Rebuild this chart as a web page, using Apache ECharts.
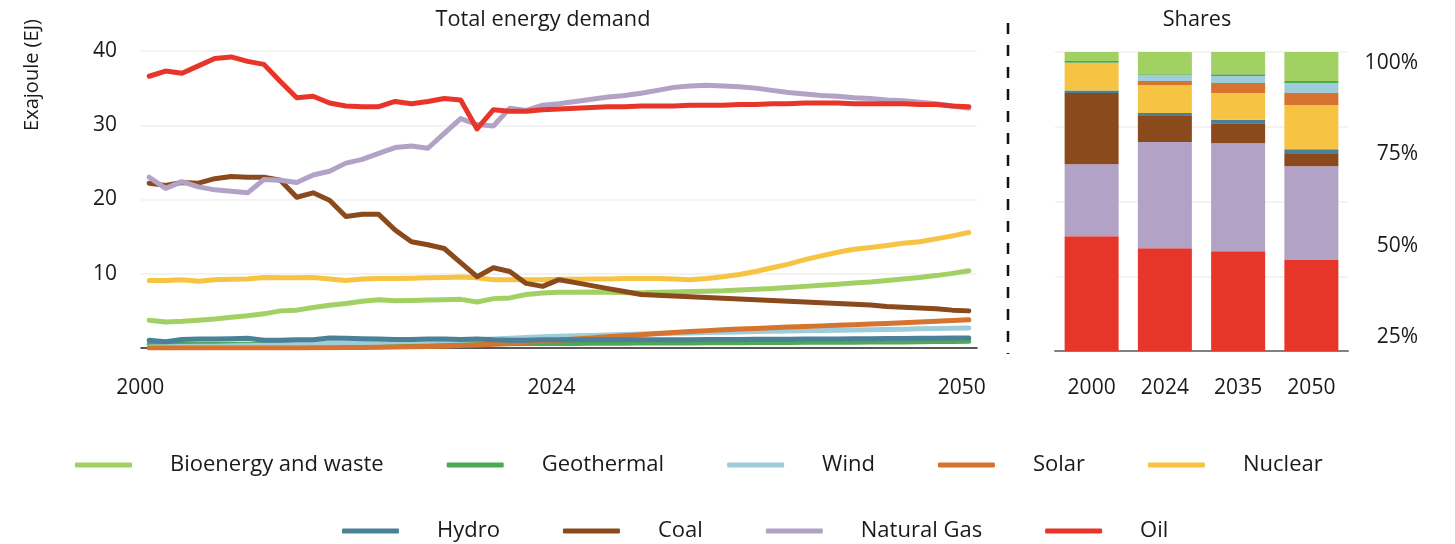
<!DOCTYPE html>
<html>
<head>
<meta charset="utf-8">
<title>Total energy demand</title>
<script src="https://cdn.jsdelivr.net/npm/echarts@6/dist/echarts.min.js"></script>
<style>
  html, body { margin: 0; padding: 0; background: #fff; }
  #main { width: 1455px; height: 544px; }
</style>
</head>
<body>
<div id="main"></div>
<script>
// years on the left chart, only a few get a label
var years = [];
for (var y = 2000; y <= 2050; y++) { years.push(String(y)); }
var labelYears = ['2000', '2024', '2050'];

// Exajoule per year, 2000 -> 2050
var bioenergy = [3.75, 3.5, 3.6, 3.75, 3.9, 4.15, 4.35, 4.6, 5.0, 5.1, 5.45, 5.75, 6.0, 6.3, 6.5, 6.35, 6.4, 6.45, 6.5, 6.55,
  6.2, 6.65, 6.75, 7.2, 7.4, 7.5, 7.5, 7.55, 7.5, 7.45, 7.45, 7.5, 7.55, 7.6, 7.65, 7.7, 7.8, 7.9, 8.0, 8.15,
  8.3, 8.45, 8.6, 8.75, 8.9, 9.1, 9.3, 9.5, 9.75, 10.05, 10.4];
var geothermal = [0.5, 0.5, 0.5, 0.5, 0.5, 0.5, 0.5, 0.5, 0.52, 0.52, 0.53, 0.53, 0.54, 0.54, 0.55, 0.55, 0.55, 0.56, 0.56, 0.57,
  0.57, 0.58, 0.58, 0.59, 0.6, 0.61, 0.62, 0.63, 0.64, 0.65, 0.66, 0.67, 0.68, 0.69, 0.7, 0.71, 0.72, 0.73, 0.74, 0.75,
  0.76, 0.77, 0.78, 0.79, 0.8, 0.81, 0.82, 0.84, 0.86, 0.88, 0.9];
var wind = [0.15, 0.17, 0.2, 0.22, 0.25, 0.3, 0.33, 0.38, 0.42, 0.47, 0.52, 0.57, 0.63, 0.69, 0.74, 0.8, 0.86, 0.92, 0.98, 1.05,
  1.12, 1.22, 1.32, 1.42, 1.52, 1.58, 1.64, 1.7, 1.76, 1.82, 1.88, 1.93, 1.98, 2.03, 2.08, 2.13, 2.17, 2.21, 2.25, 2.29,
  2.33, 2.37, 2.4, 2.44, 2.47, 2.5, 2.54, 2.58, 2.62, 2.66, 2.7];
var solar = [0, 0, 0, 0, 0, 0, 0, 0, 0, 0, 0.02, 0.04, 0.06, 0.08, 0.1, 0.13, 0.16, 0.2, 0.25, 0.32,
  0.4, 0.5, 0.62, 0.76, 0.9, 1.05, 1.2, 1.35, 1.5, 1.65, 1.8, 1.95, 2.1, 2.22, 2.34, 2.45, 2.55, 2.64, 2.73, 2.82,
  2.9, 2.98, 3.06, 3.14, 3.22, 3.3, 3.4, 3.5, 3.6, 3.7, 3.8];
var nuclear = [9.1, 9.1, 9.2, 9.0, 9.2, 9.25, 9.3, 9.5, 9.45, 9.45, 9.5, 9.3, 9.1, 9.3, 9.35, 9.35, 9.4, 9.45, 9.5, 9.55,
  9.45, 9.2, 9.2, 9.2, 9.2, 9.25, 9.25, 9.3, 9.3, 9.35, 9.35, 9.35, 9.3, 9.2, 9.35, 9.6, 9.9, 10.3, 10.8, 11.3,
  11.9, 12.4, 12.9, 13.3, 13.55, 13.8, 14.1, 14.3, 14.7, 15.1, 15.55];
var hydro = [1.05, 0.85, 1.15, 1.2, 1.2, 1.25, 1.3, 1.05, 1.05, 1.1, 1.1, 1.35, 1.3, 1.25, 1.2, 1.15, 1.15, 1.2, 1.2, 1.15,
  1.2, 1.1, 1.05, 1.05, 1.1, 1.1, 1.1, 1.1, 1.1, 1.1, 1.1, 1.1, 1.12, 1.12, 1.14, 1.15, 1.16, 1.17, 1.18, 1.19,
  1.2, 1.21, 1.22, 1.24, 1.25, 1.27, 1.28, 1.3, 1.31, 1.33, 1.35];
var coal = [22.2, 21.9, 22.3, 22.2, 22.8, 23.1, 23.0, 23.0, 22.6, 20.3, 20.9, 19.9, 17.7, 18.0, 18.0, 15.9, 14.3, 13.9, 13.4, 11.5,
  9.6, 10.8, 10.3, 8.7, 8.3, 9.2, 8.8, 8.4, 8.0, 7.6, 7.2, 7.1, 7.0, 6.9, 6.8, 6.7, 6.6, 6.5, 6.4, 6.3,
  6.2, 6.1, 6.0, 5.9, 5.8, 5.6, 5.5, 5.4, 5.3, 5.1, 5.0];
var naturalGas = [23.0, 21.5, 22.4, 21.7, 21.3, 21.1, 20.9, 22.7, 22.6, 22.3, 23.3, 23.8, 24.9, 25.4, 26.2, 27.0, 27.2, 26.9, 28.9, 30.9,
  30.1, 29.9, 32.3, 32.0, 32.7, 32.9, 33.2, 33.5, 33.8, 34.0, 34.3, 34.7, 35.1, 35.3, 35.4, 35.3, 35.2, 35.0, 34.7, 34.4,
  34.2, 34.0, 33.9, 33.7, 33.6, 33.4, 33.3, 33.1, 32.9, 32.6, 32.3];
var oil = [36.6, 37.3, 37.0, 38.0, 39.0, 39.2, 38.6, 38.2, 35.9, 33.7, 33.9, 33.0, 32.6, 32.5, 32.5, 33.2, 32.9, 33.2, 33.6, 33.4,
  29.5, 32.1, 31.9, 31.9, 32.1, 32.2, 32.3, 32.4, 32.5, 32.5, 32.6, 32.6, 32.6, 32.7, 32.7, 32.7, 32.8, 32.8, 32.9, 32.9,
  33.0, 33.0, 33.0, 32.9, 32.9, 32.9, 32.9, 32.8, 32.8, 32.6, 32.5];

// shares (%) for the stacked bars
var shareYears = ['2000', '2024', '2035', '2050'];
var shareBioenergy = [3.0, 7.4, 7.4, 9.7];
var shareGeothermal = [0.6, 0.3, 0.6, 0.7];
var shareWind = [0, 2.0, 2.4, 3.3];
var shareSolar = [0, 1.3, 3.3, 4.0];
var shareNuclear = [9.3, 9.4, 9.0, 14.8];
var shareHydro = [0.8, 1.0, 1.1, 1.6];
var shareCoal = [23.8, 8.7, 6.7, 4.1];
var shareGas = [24.1, 35.5, 36.1, 31.4];
var shareOil = [38.4, 34.4, 33.4, 30.4];

var names = ['Bioenergy and waste', 'Geothermal', 'Wind', 'Solar', 'Nuclear', 'Hydro', 'Coal', 'Natural Gas', 'Oil'];
var colors = ['#a1d063', '#4eaa51', '#9fccdb', '#d5732f', '#f6c343', '#4a8198', '#8b4a1c', '#b1a2c6', '#e8352a'];
var lineData = [bioenergy, geothermal, wind, solar, nuclear, hydro, coal, naturalGas, oil];
var shareData = [shareBioenergy, shareGeothermal, shareWind, shareSolar, shareNuclear, shareHydro, shareCoal, shareGas, shareOil];

var FONT = '"Open Sans", "Noto Sans", sans-serif';
var TXT = '#1a1a1a';

var series = [];
// lines, drawn in legend order (oil ends up on top)
for (var i = 0; i < names.length; i++) {
    series.push({
        name: names[i],
        type: 'line',
        xAxisIndex: 0,
        yAxisIndex: 0,
        data: lineData[i],
        symbol: 'none',
        showSymbol: false,
        z: 2,
        lineStyle: { width: 5, color: colors[i], cap: 'round', join: 'round' },
        itemStyle: { color: colors[i] }
    });
}
// stacked shares, oil at the bottom
for (var j = names.length - 1; j >= 0; j--) {
    series.push({
        name: names[j],
        type: 'bar',
        xAxisIndex: 1,
        yAxisIndex: 1,
        stack: 'share',
        barWidth: 54,
        data: shareData[j],
        itemStyle: { color: colors[j] }
    });
}

var legendBase = {
    orient: 'horizontal',
    icon: 'roundRect',
    itemWidth: 57,
    itemHeight: 5,
    itemGap: 63,
    padding: 0,
    selectedMode: false,
    textStyle: { fontFamily: FONT, fontSize: 22, color: TXT, padding: [0, 0, 0, 33] }
};

// small nudges so the year labels sit where the original puts them
var labelShift = { '2000': [0, 18, 0, 0], '2024': [0, 0, 0, 18], '2050': [0, 14, 0, 0] };

var option = {
    animation: false,
    textStyle: { fontFamily: FONT },
    legend: [
        Object.assign({}, legendBase, { data: names.slice(0, 5), left: 75, top: 454 }),
        Object.assign({}, legendBase, { data: names.slice(5), left: 342, top: 520 })
    ],
    grid: [
        { left: 141, top: 51, width: 836, height: 297, outerBoundsMode: 'none' },
        { left: 1055, top: 52, width: 293, height: 299, outerBoundsMode: 'none' },
        { left: 1055, top: 63, width: 293, height: 274, outerBoundsMode: 'none' }
    ],
    xAxis: [
        {
            gridIndex: 0,
            type: 'category',
            data: years,
            boundaryGap: true,
            axisLine: { lineStyle: { color: '#262626', width: 1.5 } },
            axisTick: { show: false },
            splitLine: { show: false },
            axisLabel: {
                interval: function (idx, val) { return labelYears.indexOf(val) >= 0; },
                margin: 30, fontSize: 21, color: TXT, fontFamily: FONT,
                formatter: function (val) { return '{y' + val + '|' + val + '}'; },
                rich: {
                    y2000: { fontSize: 21, color: TXT, padding: labelShift['2000'] },
                    y2024: { fontSize: 21, color: TXT, padding: labelShift['2024'] },
                    y2050: { fontSize: 21, color: TXT, padding: labelShift['2050'] }
                }
            }
        },
        {
            gridIndex: 1,
            type: 'category',
            data: shareYears,
            axisLine: { lineStyle: { color: '#808080', width: 2 } },
            axisTick: { show: false },
            axisLabel: { margin: 27, fontSize: 21, color: TXT, fontFamily: FONT }
        },
        { gridIndex: 2, type: 'category', data: shareYears, show: false }
    ],
    yAxis: [
        {
            gridIndex: 0,
            type: 'value',
            min: 0, max: 40, interval: 10,
            axisLine: { show: false },
            axisTick: { show: false },
            splitLine: { lineStyle: { color: '#efefef', width: 1.5 } },
            axisLabel: {
                margin: 24, fontSize: 21, color: TXT, fontFamily: FONT,
                formatter: function (v) { return v === 0 ? '' : v; }
            }
        },
        {
            gridIndex: 1,
            type: 'value',
            min: 0, max: 100, interval: 25,
            axisLine: { show: false },
            axisTick: { show: false },
            axisLabel: { show: false },
            splitLine: { lineStyle: { color: '#efefef', width: 1.5 } }
        },
        {
            // percent labels sit on their own (offset) scale, like the original
            gridIndex: 2,
            type: 'value',
            position: 'right',
            min: 25, max: 100, interval: 25,
            axisLine: { show: false },
            axisTick: { show: false },
            splitLine: { show: false },
            axisLabel: {
                formatter: '{value}%', align: 'right', margin: 70,
                fontSize: 21, color: TXT, fontFamily: FONT
            }
        }
    ],
    graphic: [
        {
            type: 'text', x: 543, y: 20,
            style: { text: 'Total energy demand', font: '21.7px ' + FONT, fill: TXT, textAlign: 'center', textVerticalAlign: 'middle' }
        },
        {
            type: 'text', x: 1197, y: 20,
            style: { text: 'Shares', font: '21.7px ' + FONT, fill: TXT, textAlign: 'center', textVerticalAlign: 'middle' }
        },
        {
            type: 'text', x: 32, y: 75, rotation: Math.PI / 2,
            style: { text: 'Exajoule (EJ)', font: '20px ' + FONT, fill: TXT, textAlign: 'center', textVerticalAlign: 'middle' }
        },
        {
            type: 'line',
            shape: { x1: 1008, y1: 23, x2: 1008, y2: 354 },
            style: { stroke: '#111', lineWidth: 2.5, lineDash: [11, 11] }
        }
    ],
    series: series
};

var chart = echarts.init(document.getElementById('main'));
chart.setOption(option);
</script>
</body>
</html>
